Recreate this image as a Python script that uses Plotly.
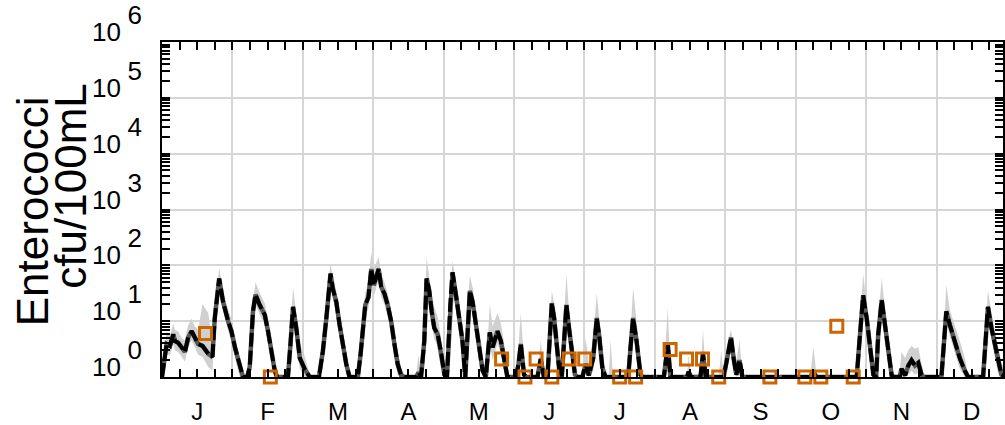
import plotly.graph_objects as go

# ---------------- data ----------------
month_labels = ["J", "F", "M", "A", "M", "J", "J", "A", "S", "O", "N", "D"]

days = [0.0, 0.6, 2.0, 3.4, 4.9, 5.6, 7.0, 8.5, 9.9, 11.3, 12.8, 14.2, 15.6, 17.5, 20.0, 21.8,
        22.8, 24.7, 26.4, 28.6, 30.0, 31.5, 33.6, 35.0, 36.8, 37.9, 39.3, 40.4, 42.2, 44.4,
        45.8, 47.3, 48.7, 49.7, 54.4, 55.5, 56.6, 58.0, 59.5, 61.6, 63.8, 67.8, 69.5, 71.0,
        72.8, 73.8, 75.3, 76.7, 78.1, 79.6, 81.0, 84.6, 85.8, 86.8, 87.8, 89.2, 90.4, 91.5,
        92.5, 93.6, 94.7, 96.1, 97.5, 99.0, 100.4, 101.8, 103.3, 104.7, 109.8, 110.8, 111.9,
        113.3, 114.3, 115.4, 116.5, 117.6, 119.1, 120.5, 122.0, 123.1, 124.5, 125.5, 127.0,
        128.4, 129.8, 131.0, 132.3, 133.0, 134.2, 135.6, 137.0, 138.5, 139.9, 141.6, 142.8,
        144.9, 146.4, 147.8, 149.2, 152.9, 154.0, 155.0, 156.4, 157.4, 162.2, 163.6, 165.0,
        166.5, 167.5, 168.4, 169.4, 170.5, 171.8, 172.7, 173.7, 174.7, 175.8, 177.0, 178.4,
        179.4, 181.6, 183.0, 184.4, 186.3, 187.8, 188.8, 190.2, 191.6, 193.0, 193.8, 194.7,
        201.4, 202.4, 203.5, 205.0, 206.7, 207.7, 216.8, 218.5, 219.6, 226.8, 227.5, 228.5,
        232.6, 233.7, 234.9, 240.6, 241.6, 242.6, 244.0, 245.8, 246.9, 248.1, 249.5, 250.7,
        280.1, 281.4, 282.7, 300.1, 301.2, 302.9, 304.4, 305.8, 307.3, 308.5, 309.4, 310.9,
        312.3, 313.7, 315.2, 316.2, 318.5, 319.5, 321.0, 322.4, 323.8, 325.3, 326.7, 328.1,
        329.1, 336.7, 337.7, 338.8, 340.3, 342.4, 344.6, 346.8, 348.2, 354.7, 355.8, 356.8,
        358.3, 359.7, 361.1, 362.6, 365.0]

enterococci = [1, 1.5, 3.9, 3.6, 5.8, 4.4, 4.1, 3.4, 2.8, 5.1, 6.6, 5.1, 3.9, 3.6, 2.6, 2.3,
               11.4, 58, 22, 9.9, 6.6, 3.4, 1.5, 1, 1, 1.5, 15, 30, 19.5, 13,
               6.6, 2.9, 1.3, 1, 1, 3.9, 18, 7.6, 2.2, 1.4, 1, 1, 2.9, 11.4,
               71, 38, 22, 8.7, 3.9, 1.7, 1, 1, 2.6, 7.6, 19.5, 27, 86, 44,
               61, 86, 41, 31, 19.5, 9.9, 3.9, 1.7, 1.07, 1, 1, 1.2, 1,
               4.4, 58, 36, 15, 7.6, 5.8, 2.9, 1.1, 1, 19.5, 75, 29,
               11.4, 4.4, 1, 15, 35, 22, 8.7, 2.9, 1.3, 1, 6.3, 3.4,
               6.6, 4.4, 2.0, 1, 1, 1.7, 3.9, 1.1, 1, 1, 2.1, 1,
               1, 3.9, 21, 11.4, 4.4, 1.1, 1, 5.8, 19.5, 7.6, 2.9, 1.1,
               1, 1, 1.7, 1.07, 2.2, 11.4, 5.8, 1.5, 1, 1, 1, 1,
               1, 3.4, 11.4, 4.4, 1.1, 1, 1, 3.9, 1, 1, 1.24, 1,
               1, 2.6, 1, 1, 1, 1, 2.0, 5.1, 2.2, 1.1, 2.0, 1,
               1, 1.24, 1, 1, 3.9, 29, 11.4, 3.4, 1.1, 1, 5.8, 24,
               8.7, 2.6, 1.07, 1, 1, 1.4, 1.07, 1.6, 2.0, 1.6, 1.8, 1.1,
               1, 1, 4.4, 15, 8.7, 4.4, 2.2, 1.3, 1, 1, 4.4, 18,
               7.6, 3.9, 2.0, 1.1, 1]

band_upper = [1.1, 2.2, 6.5, 5.5, 9.0, 7.0, 6.5, 5.0, 4.5, 8.5, 11, 8.0, 7.0, 20, 14, 4.0,
              18, 90, 35, 16, 11, 5.5, 2.4, 1.1, 1.1, 2.4, 24, 50, 32, 21,
              11, 4.8, 2.0, 1.1, 1.1, 7, 40, 14, 4, 2.4, 1.1, 1.1, 4.8, 20,
              110, 60, 35, 14, 6.5, 2.8, 1.1, 1.1, 4.5, 13, 32, 50, 170, 90,
              110, 140, 70, 50, 32, 16, 6.5, 2.8, 1.5, 1.1, 1.1, 2.5, 1.1,
              8, 140, 60, 30, 18, 12, 5, 1.6, 1.1, 35, 120, 50,
              20, 8, 1.1, 30, 65, 40, 16, 5, 2.0, 1.1, 20, 8,
              14, 9, 4, 1.1, 1.1, 3.5, 14, 2, 1.1, 1.1, 4.5, 1.1,
              1.1, 8, 35, 20, 8, 1.8, 1.1, 12, 70, 16, 6, 1.8,
              1.1, 1.1, 5, 1.8, 5, 32, 12, 3, 1.1, 1.1, 4.7, 1.1,
              1.1, 8, 40, 10, 2, 1.1, 1.1, 18, 1.1, 1.1, 2.5, 1.1,
              1.1, 7, 1.1, 1.1, 3, 1.1, 3.5, 7, 3.5, 2, 4.5, 1.1,
              1.1, 3.5, 1.1, 1.1, 7, 70, 20, 6, 1.8, 1.1, 10, 60,
              16, 4.5, 1.6, 1.1, 1.1, 2.8, 2.2, 3.0, 3.6, 3.2, 3.4, 1.8,
              1.1, 1.1, 8, 45, 16, 9, 4.5, 2.2, 1.1, 1.1, 8, 36,
              14, 7, 3.5, 1.8, 1.1]

band_lower = [1, 1, 2.6, 2.4, 3.8, 3.0, 2.8, 2.3, 1.9, 3.4, 4.5, 3.4, 2.5, 2.3, 1.5, 1.3,
              7, 40, 15, 6.5, 4.3, 2.2, 1, 1, 1, 1, 10, 20, 13, 8.5,
              4.3, 1.9, 1, 1, 1, 2.5, 12, 5, 1.4, 1, 1, 1, 1.9, 7.5,
              48, 25, 14, 5.7, 2.5, 1.1, 1, 1, 1.6, 5, 12, 17, 55, 28,
              40, 55, 27, 20, 12, 6.5, 2.5, 1.1, 1, 1, 1, 1, 1,
              2.8, 38, 23, 9, 4.8, 3.6, 1.8, 1, 1, 12, 48, 18,
              7, 2.7, 1, 9, 22, 14, 5.5, 1.8, 1, 1, 3.8, 2,
              4, 2.6, 1.2, 1, 1, 1.1, 2.3, 1, 1, 1, 1.3, 1,
              1, 2.4, 13, 7, 2.7, 1, 1, 3.5, 12, 4.6, 1.8, 1,
              1, 1, 1.1, 1, 1.3, 7, 3.5, 1, 1, 1, 1, 1,
              1, 2, 7, 2.7, 1, 1, 1, 2, 1, 1, 1, 1,
              1, 1.6, 1, 1, 1, 1, 1.2, 3, 1.3, 1, 1.2, 1,
              1, 1, 1, 1, 2.5, 19, 7, 2.2, 1, 1, 3.6, 15,
              5.5, 1.6, 1, 1, 1, 1, 1, 1.1, 1.3, 1.1, 1.2, 1,
              1, 1, 2.8, 10, 5.5, 2.8, 1.4, 1, 1, 1, 2.8, 11,
              4.8, 2.5, 1.2, 1, 1]

obs_days = [18.8, 46.8, 146.7, 156.8, 161.6, 168.4, 175.9, 182.6, 197.7, 204.6,
            219.5, 226.6, 233.5, 240.5, 262.6, 277.7, 284.6, 291.5, 298.6]
obs_values = [6.0, 1, 2.1, 1, 2.1, 1, 2.1, 2.1, 1, 1,
              3.1, 2.1, 2.1, 1, 1, 1, 1, 8.1, 1]

y_tick_values = [1, 10, 100, 1000, 10000, 100000, 1000000]
y_tick_base = ["10"] * 7
y_tick_exponents = ["0", "1", "2", "3", "4", "5", "6"]

# ---------------- figure ----------------
MONTH = 365 / 12
month_centers = [(k + 0.5) * MONTH for k in range(12)]
month_edges = [k * MONTH for k in range(13)]

FONT = "Liberation Sans, Arial, Helvetica, sans-serif"

fig = go.Figure()
fig.add_trace(go.Scatter(x=days, y=band_upper, mode="lines", line=dict(width=0),
                         hoverinfo="skip", showlegend=False))
fig.add_trace(go.Scatter(x=days, y=band_lower, mode="lines", line=dict(width=0),
                         fill="tonexty", fillcolor="#d0d0d0", hoverinfo="skip", showlegend=False))
fig.add_trace(go.Scatter(x=days, y=enterococci, mode="lines",
                         line=dict(color="#585858", width=4.5), showlegend=False))
fig.add_trace(go.Scatter(x=days, y=enterococci, mode="lines",
                         line=dict(color="black", width=4, dash="14px,4px"), showlegend=False))
fig.add_trace(go.Scatter(x=obs_days, y=obs_values, xaxis="x2", mode="markers",
                         marker=dict(symbol="square-open", size=12, color="#CC6600",
                                     line=dict(width=3, color="#CC6600")),
                         cliponaxis=False, showlegend=False))
# invisible carriers for the two tick-label axes (base "10" and exponent)
fig.add_trace(go.Scatter(x=obs_days[:1], y=obs_values[:1], yaxis="y2", mode="markers",
                         marker=dict(opacity=0), hoverinfo="skip", showlegend=False))
fig.add_trace(go.Scatter(x=obs_days[:1], y=obs_values[:1], yaxis="y3", mode="markers",
                         marker=dict(opacity=0), hoverinfo="skip", showlegend=False))

label_axis = dict(type="log", overlaying="y", matches="y", side="left", tickmode="array",
                  tickvals=y_tick_values, ticks="", showgrid=False, showline=False,
                  zeroline=False, ticklabeloverflow="allow",
                  tickfont=dict(family=FONT, size=26, color="black"))

fig.update_layout(
    width=1005, height=425,
    margin=dict(l=162, r=0, t=42, b=42),
    plot_bgcolor="white", paper_bgcolor="white",
    font=dict(family=FONT, size=24, color="black"),
    showlegend=False,
    xaxis=dict(range=[0, 363.3], tickmode="array", tickvals=month_centers, ticktext=month_labels,
               ticks="inside", ticklen=8, tickwidth=2, tickcolor="black",
               showline=True, linewidth=2, linecolor="black", mirror="allticks",
               showgrid=False, zeroline=False, ticklabelstandoff=12,
               tickfont=dict(family=FONT, size=24, color="black"),
               minor=dict(tick0=0, dtick=MONTH / 4, ticks="inside", ticklen=8, tickwidth=2,
                          tickcolor="black", showgrid=False)),
    xaxis2=dict(overlaying="x", matches="x", tickmode="array", tickvals=month_edges,
                showticklabels=False, ticks="", showgrid=True, gridcolor="#d6d6d6",
                gridwidth=2, showline=False, zeroline=False),
    yaxis=dict(type="log", range=[0, 6], tickmode="array", tickvals=y_tick_values,
               showticklabels=False, ticks="inside", ticklen=8, tickwidth=2, tickcolor="black",
               showline=True, linewidth=2, linecolor="black", mirror="allticks",
               showgrid=True, gridcolor="#d6d6d6", gridwidth=2, zeroline=False,
               minor=dict(dtick="D1", ticks="inside", ticklen=7, tickwidth=2,
                          tickcolor="black", showgrid=False)),
    yaxis2=dict(label_axis, ticktext=y_tick_base, ticklabelstandoff=40, ticklabelshift=-10),
    yaxis3=dict(label_axis, ticktext=y_tick_exponents, ticklabelstandoff=19, ticklabelshift=-27),
    annotations=[
        dict(text="Enterococci", textangle=-90, xref="paper", yref="paper",
             x=(33 - 162) / 843, y=(383 - 214) / 341, xanchor="center", yanchor="middle",
             showarrow=False, font=dict(family=FONT, size=44, color="black")),
        dict(text="cfu/100mL", textangle=-90, xref="paper", yref="paper",
             x=(70 - 162) / 843, y=(383 - 189) / 341, xanchor="center", yanchor="middle",
             showarrow=False, font=dict(family=FONT, size=44, color="black")),
    ],
)

fig.write_html("out.html", config={"displayModeBar": False},
               post_script="document.body.style.margin='0';document.body.style.overflow='hidden';")
